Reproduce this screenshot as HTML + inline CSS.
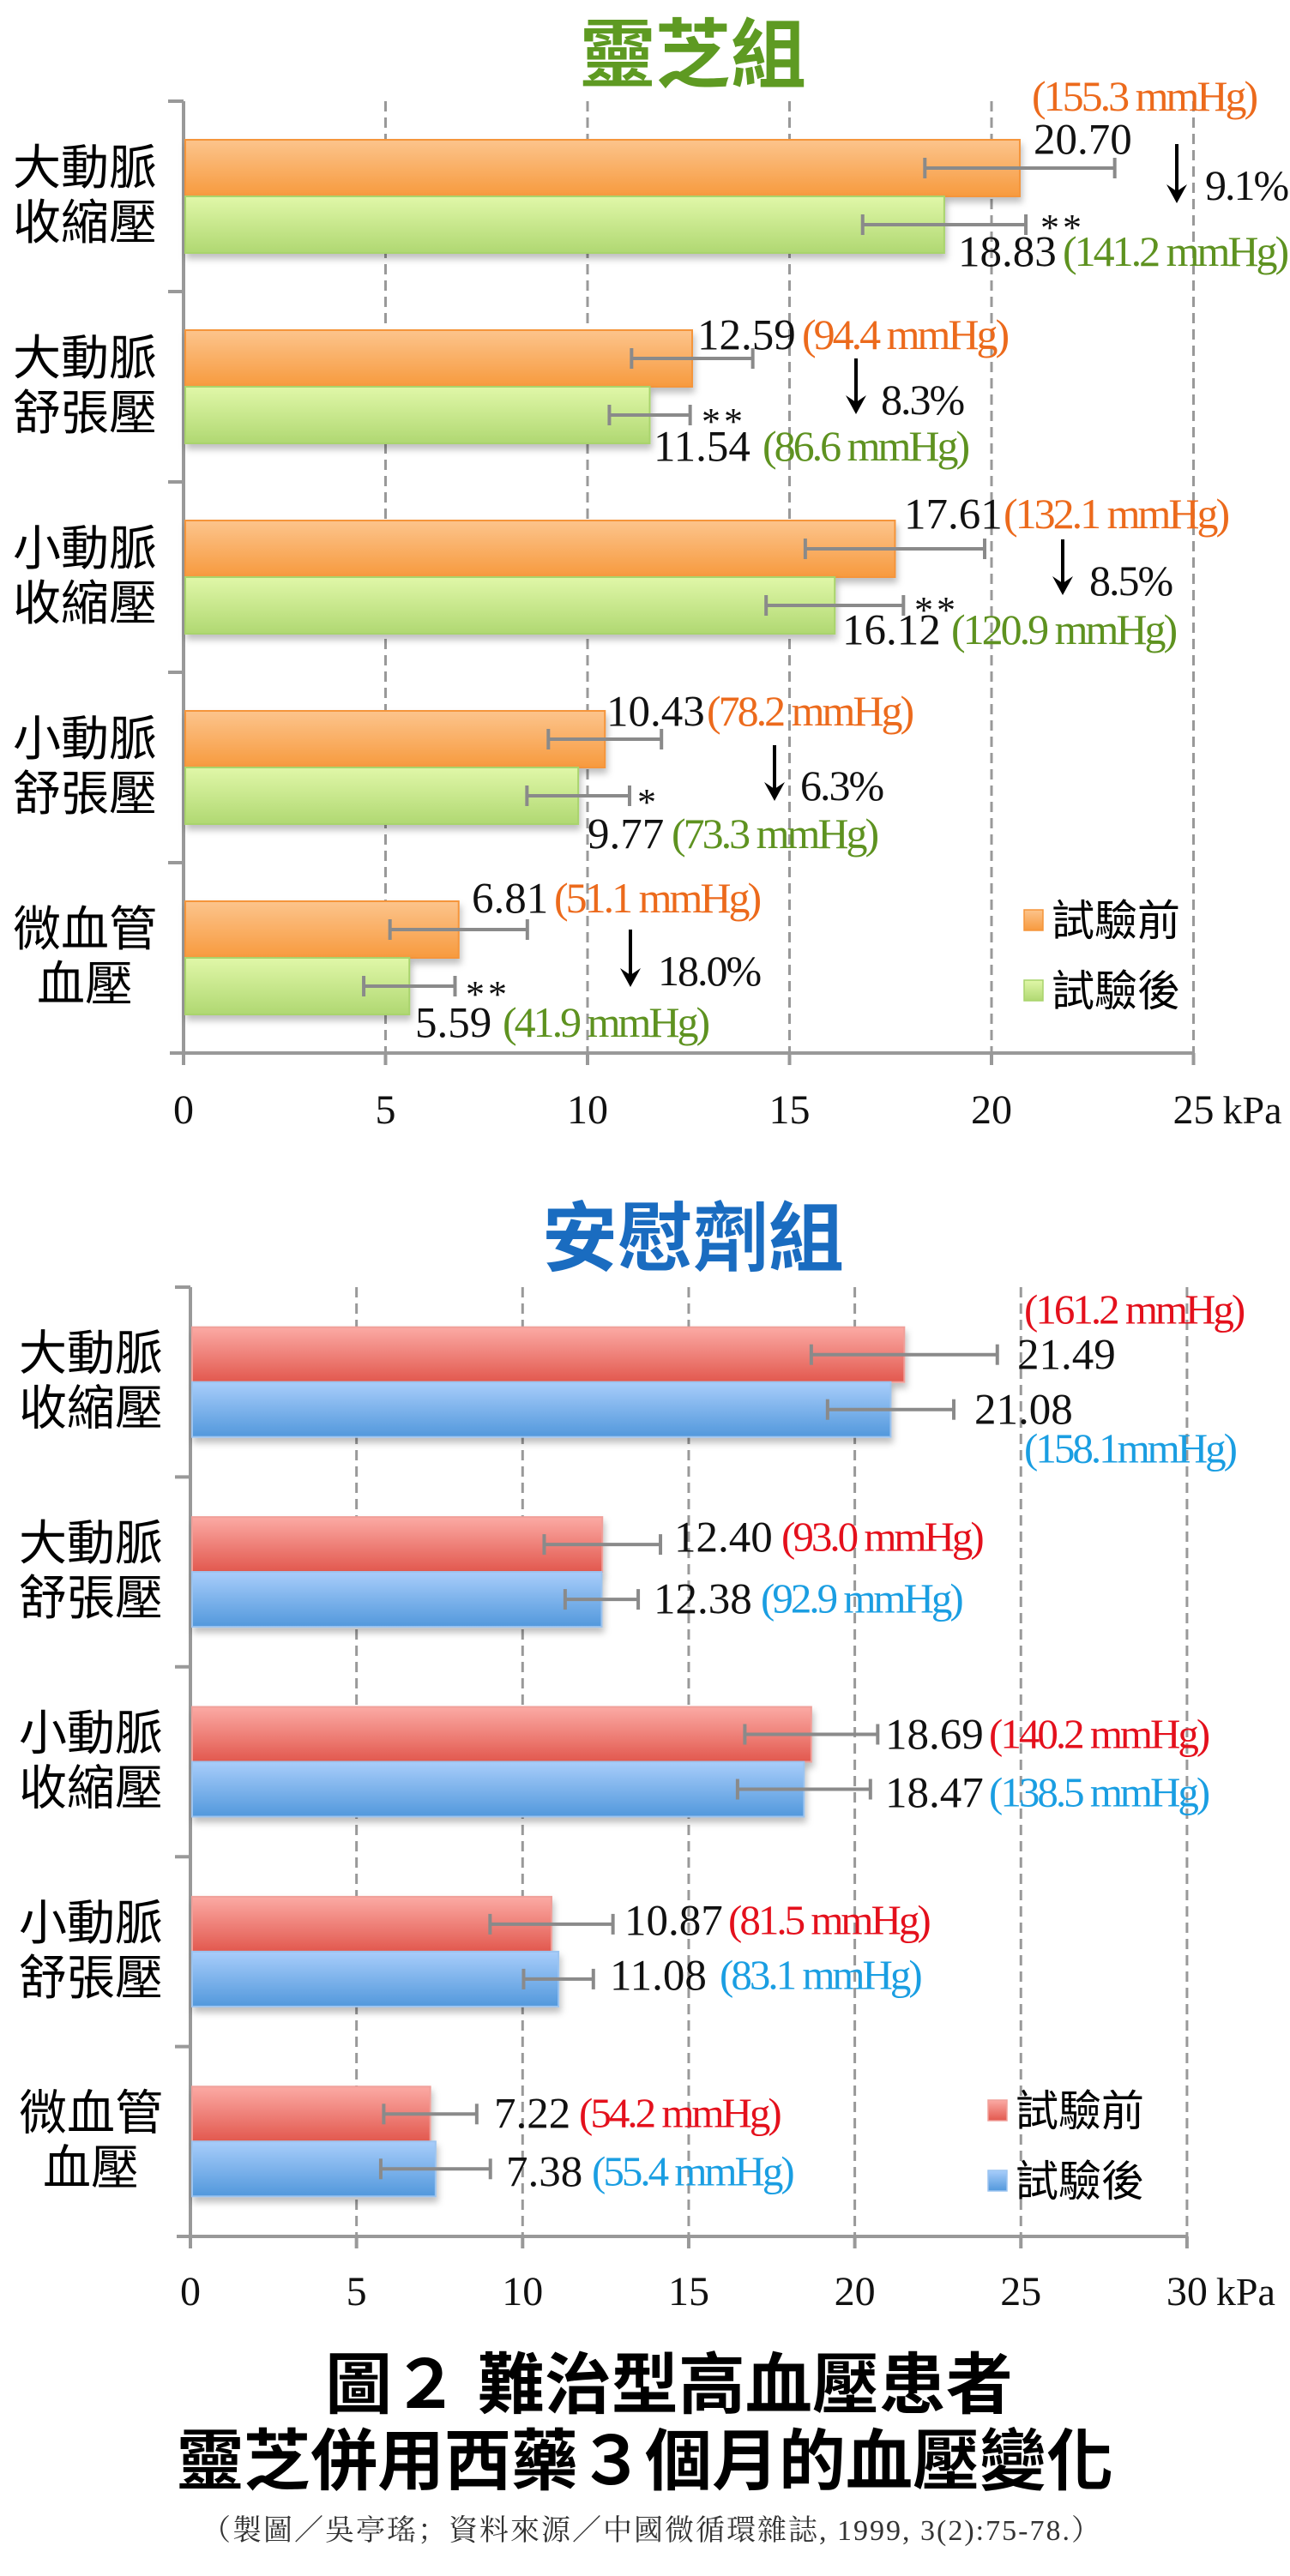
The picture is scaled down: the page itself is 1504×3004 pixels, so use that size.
<!DOCTYPE html>
<html><head><meta charset="utf-8">
<style>
html,body{margin:0;padding:0;background:#fff;}
svg{display:block;}
.cjk{font-family:"Liberation Sans","Noto Sans CJK TC",sans-serif;}
.num{font-family:"Liberation Serif","Noto Serif CJK SC",serif;}
</style></head>
<body>
<svg id="chart" width="1504" height="3004" viewBox="0 0 1504 3004" xmlns="http://www.w3.org/2000/svg">
<defs>
<linearGradient id="gOrange" x1="0" y1="0" x2="0" y2="1"><stop offset="0" stop-color="#fcc48c"/><stop offset="1" stop-color="#f79a3e"/></linearGradient>
<linearGradient id="gGreen" x1="0" y1="0" x2="0" y2="1"><stop offset="0" stop-color="#e0f7a8"/><stop offset="1" stop-color="#b0d872"/></linearGradient>
<linearGradient id="gRed" x1="0" y1="0" x2="0" y2="1"><stop offset="0" stop-color="#fbaaa4"/><stop offset="1" stop-color="#e2584e"/></linearGradient>
<linearGradient id="gBlue" x1="0" y1="0" x2="0" y2="1"><stop offset="0" stop-color="#a8cdfa"/><stop offset="1" stop-color="#5298dc"/></linearGradient>
<filter id="sh" x="-5%" y="-20%" width="110%" height="160%"><feDropShadow dx="2" dy="6" stdDeviation="4" flood-color="#000" flood-opacity="0.25"/></filter>
</defs>
<g id="top-chart"></g>
<g id="bottom-chart"></g>
<text class="cjk" x="780" y="2808" font-size="78" font-weight="bold" text-anchor="middle" fill="#000">圖２ 難治型高血壓患者</text>
<text class="cjk" x="752" y="2897" font-size="78" font-weight="bold" text-anchor="middle" fill="#000">靈芝併用西藥３個月的血壓變化</text>
<text class="num" x="760" y="2962" font-size="34" text-anchor="middle" fill="#333" letter-spacing="2">（製圖／吳亭瑤；資料來源／中國微循環雜誌, 1999, 3(2):75-78.）</text>
</svg>
<script>
// ---------- data ----------
const categories = [["大動脈","收縮壓"],["大動脈","舒張壓"],["小動脈","收縮壓"],["小動脈","舒張壓"],["微血管","血壓"]];
const lzBefore = [20.70, 12.59, 17.61, 10.43, 6.81];
const lzAfter = [18.83, 11.54, 16.12, 9.77, 5.59];
const lzBeforeSd = [2.35, 1.5, 2.22, 1.4, 1.7];
const lzAfterSd = [2.02, 1.0, 1.7, 1.27, 1.13];
const lzBeforeMm = ["155.3", "94.4", "132.1", "78.2", "51.1"];
const lzAfterMm = ["141.2", "86.6", "120.9", "73.3", "41.9"];
const lzPct = ["9.1%", "8.3%", "8.5%", "6.3%", "18.0%"];
const lzSig = ["**", "**", "**", "*", "**"];
const lzTicks = [0, 5, 10, 15, 20, 25];
const plBefore = [21.49, 12.40, 18.69, 10.87, 7.22];
const plAfter = [21.08, 12.38, 18.47, 11.08, 7.38];
const plBeforeSd = [2.8, 1.75, 2.0, 1.85, 1.4];
const plAfterSd = [1.9, 1.1, 2.0, 1.05, 1.65];
const plBeforeMm = ["161.2", "93.0", "140.2", "81.5", "54.2"];
const plAfterMm = ["158.1", "92.9", "138.5", "83.1", "55.4"];
const plTicks = [0, 5, 10, 15, 20, 25, 30];

const NS = "http://www.w3.org/2000/svg";
function mk(parent, tag, attrs, text) {
  const e = document.createElementNS(NS, tag);
  for (const k in attrs) e.setAttribute(k, attrs[k]);
  if (text !== undefined) e.textContent = text;
  parent.appendChild(e);
  return e;
}

function drawChart(g, cfg) {
  const xs = v => cfg.x0 + v * cfg.pxPerUnit;
  const gh = (cfg.yBottom - cfg.yTop) / categories.length;
  const yc = i => cfg.yTop + gh * (i + 0.5);
  const xMax = xs(cfg.ticks[cfg.ticks.length - 1]);
  const t = mk(g, "text", {x: cfg.titleX, y: cfg.titleY, "font-size": 88, "font-weight": "bold", "text-anchor": "middle", fill: cfg.titleColor, class: "cjk"}, cfg.title);
  
  
  cfg.ticks.forEach((tk, i) => {
    if (i === 0) return;
    const l = mk(g, "line", {x1: xs(tk), x2: xs(tk), y1: cfg.yTop, y2: cfg.yBottom, stroke: "#999", "stroke-width": 3, "stroke-dasharray": "12 7"});
    
    
  });
  const ya = mk(g, "line", {x1: cfg.x0, x2: cfg.x0, y1: cfg.yTop, y2: cfg.yBottom + 14, stroke: "#999", "stroke-width": 4});
  
  
  const xa = mk(g, "line", {x1: cfg.x0 - 16, x2: xMax, y1: cfg.yBottom, y2: cfg.yBottom, stroke: "#999", "stroke-width": 4});
  
  
  for (let i = 0; i < categories.length; i++) {
    const yt = cfg.yTop + gh * i;
    const tk = mk(g, "line", {x1: cfg.x0 - 18, x2: cfg.x0, y1: yt, y2: yt, stroke: "#999", "stroke-width": 4});
    
    
  }
  cfg.ticks.forEach(tk => {
    const m = mk(g, "line", {x1: xs(tk), x2: xs(tk), y1: cfg.yBottom, y2: cfg.yBottom + 14, stroke: "#999", "stroke-width": 4});
    
    
    const lb = mk(g, "text", {x: xs(tk), y: cfg.tickY, "font-size": 48, "text-anchor": "middle", fill: "#111", class: "num"}, String(tk));
    
    
  });
  const unit = mk(g, "text", {x: xMax + 34, y: cfg.tickY, "font-size": 46, fill: "#111", class: "num"}, "kPa");
  
  
  for (let i = 0; i < categories.length; i++) {
    const c = yc(i);
    const bh = cfg.barH;
    const cl = mk(g, "text", {x: cfg.labelX, y: c - 14, "font-size": 56, "text-anchor": "middle", fill: "#000", class: "cjk"}, categories[i][0]);
    
    
    const cl2 = mk(g, "text", {x: cfg.labelX, y: c + 50, "font-size": 56, "text-anchor": "middle", fill: "#000", class: "cjk"}, categories[i][1]);
    
    
    [[cfg.before[i], cfg.beforeSd[i], c - bh, cfg.fillA, cfg.strokeA, 'bar-before'], [cfg.after[i], cfg.afterSd[i], c, cfg.fillB, cfg.strokeB, 'bar-after']].forEach(([v, sd, y, f, s, nm]) => {
      const r = mk(g, "rect", {x: cfg.x0 + 2, y: y, width: xs(v) - cfg.x0 - 2, height: bh, fill: f, stroke: s, "stroke-width": 2, filter: "url(#sh)"});
      
      
      const ey = y + bh / 2;
      const eb = mk(g, "g", {stroke: "#8a8a8a", "stroke-width": 4});
      
      
      mk(eb, "line", {x1: xs(v - sd), x2: xs(v + sd), y1: ey, y2: ey});
      mk(eb, "line", {x1: xs(v - sd), x2: xs(v - sd), y1: ey - 12, y2: ey + 12});
      mk(eb, "line", {x1: xs(v + sd), x2: xs(v + sd), y1: ey - 12, y2: ey + 12});
    });
  }
  [[cfg.fillA, cfg.strokeA, "試驗前", cfg.legY[0]], [cfg.fillB, cfg.strokeB, "試驗後", cfg.legY[1]]].forEach(([f, s, txt, y]) => {
    const sq = mk(g, "rect", {x: cfg.legX, y: y - 12, width: 22, height: 24, fill: f, stroke: s, "stroke-width": 1.5});
    
    
    const lt = mk(g, "text", {x: cfg.legX + 32, y: y + 18, "font-size": 50, fill: "#000", class: "cjk"}, txt);
    
    
  });
}

function label(g, x, cy, txt, color, size, name, ls) {
  const e = mk(g, "text", {x: x, y: cy + size * 0.34, "font-size": size, fill: color, class: "num", "letter-spacing": ls || 0}, txt);
  
  
  return e;
}

const gTop = document.getElementById("top-chart");
drawChart(gTop, {x0: 214, pxPerUnit: 47.1, yTop: 118, yBottom: 1228, barH: 66, ticks: lzTicks, tickY: 1310,
  before: lzBefore, after: lzAfter, beforeSd: lzBeforeSd, afterSd: lzAfterSd,
  fillA: "url(#gOrange)", strokeA: "#f5953a", fillB: "url(#gGreen)", strokeB: "#a9d46c",
  title: "靈芝組", titleX: 808, titleY: 95, titleColor: "#5e9a22", labelX: 99, legX: 1194, legY: [1073, 1155]});

const lzLay = [
  {b: [1205, 162], bm: [1203, 112], a: [1117, 293], am: [1239, 293], s: [1213, 257], ar: [1372, 168, 237], p: [1405, 216]},
  {b: [813, 390], bm: [935, 390], a: [762, 520], am: [889, 520], s: [818, 483], ar: [998, 418, 483], p: [1027, 466]},
  {b: [1054, 599], bm: [1170, 599], a: [982, 734], am: [1109, 734], s: [1066, 703], ar: [1239, 629, 694], p: [1270, 677]},
  {b: [707, 829], bm: [824, 829], a: [685, 972], am: [783, 972], s: [743, 927], ar: [903, 869, 934], p: [933, 916]},
  {b: [550, 1047], bm: [646, 1047], a: [484, 1192], am: [586, 1192], s: [543, 1151], ar: [735, 1084, 1151], p: [767, 1132]}
];
lzLay.forEach((L, i) => {
  label(gTop, L.b[0], L.b[1], lzBefore[i].toFixed(2), "#111", 51, "value-label-before");
  label(gTop, L.bm[0], L.bm[1], "(" + lzBeforeMm[i] + " mmHg)", "#ec6a1c", 50, "mmhg-label-before", -3);
  label(gTop, L.a[0], L.a[1], lzAfter[i].toFixed(2), "#111", 51, "value-label-after");
  label(gTop, L.am[0], L.am[1], "(" + lzAfterMm[i] + " mmHg)", "#5e9220", 50, "mmhg-label-after", -3);
  label(gTop, L.s[0], L.s[1] + 8, lzSig[i], "#111", 44, "significance-mark", 4);
  const ar = mk(gTop, "g", {stroke: "#000", "stroke-width": 4, fill: "#000"});
  
  
  mk(ar, "line", {x1: L.ar[0], x2: L.ar[0], y1: L.ar[1], y2: L.ar[2] - 4});
  mk(ar, "path", {d: `M${L.ar[0] - 12} ${L.ar[2] - 22} L${L.ar[0]} ${L.ar[2]} L${L.ar[0] + 12} ${L.ar[2] - 22} L${L.ar[0]} ${L.ar[2] - 14} Z`, stroke: "none"});
  label(gTop, L.p[0], L.p[1], lzPct[i], "#111", 50, "percent-change", -2);
});

const gBot = document.getElementById("bottom-chart");
drawChart(gBot, {x0: 222, pxPerUnit: 38.73, yTop: 1501, yBottom: 2608, barH: 64, ticks: plTicks, tickY: 2688,
  before: plBefore, after: plAfter, beforeSd: plBeforeSd, afterSd: plAfterSd,
  fillA: "url(#gRed)", strokeA: "#f0a09a", fillB: "url(#gBlue)", strokeB: "#9cc4f0",
  title: "安慰劑組", titleX: 808, titleY: 1475, titleColor: "#1a6cc0", labelX: 106, legX: 1152, legY: [2461, 2543]});

const plLay = [
  {b: [1186, 1579], bm: [1194, 1527], a: [1136, 1643], am: [1194, 1689]},
  {b: [786, 1792], bm: [911, 1792], a: [762, 1864], am: [887, 1864]},
  {b: [1032, 2022], bm: [1153, 2022], a: [1032, 2090], am: [1153, 2090]},
  {b: [728, 2239], bm: [849, 2239], a: [711, 2303], am: [839, 2303]},
  {b: [576, 2464], bm: [675, 2464], a: [590, 2532], am: [690, 2532]}
];
plLay.forEach((L, i) => {
  label(gBot, L.b[0], L.b[1], plBefore[i].toFixed(2), "#111", 51, "value-label-before");
  label(gBot, L.bm[0], L.bm[1], "(" + plBeforeMm[i] + " mmHg)", "#e4101c", 49, "mmhg-label-before", -3);
  label(gBot, L.a[0], L.a[1], plAfter[i].toFixed(2), "#111", 51, "value-label-after");
  label(gBot, L.am[0], L.am[1], "(" + plAfterMm[i] + (i === 0 ? "mmHg)" : " mmHg)"), "#1a9ee2", 49, "mmhg-label-after", -3);
});
</script>
</body></html>
